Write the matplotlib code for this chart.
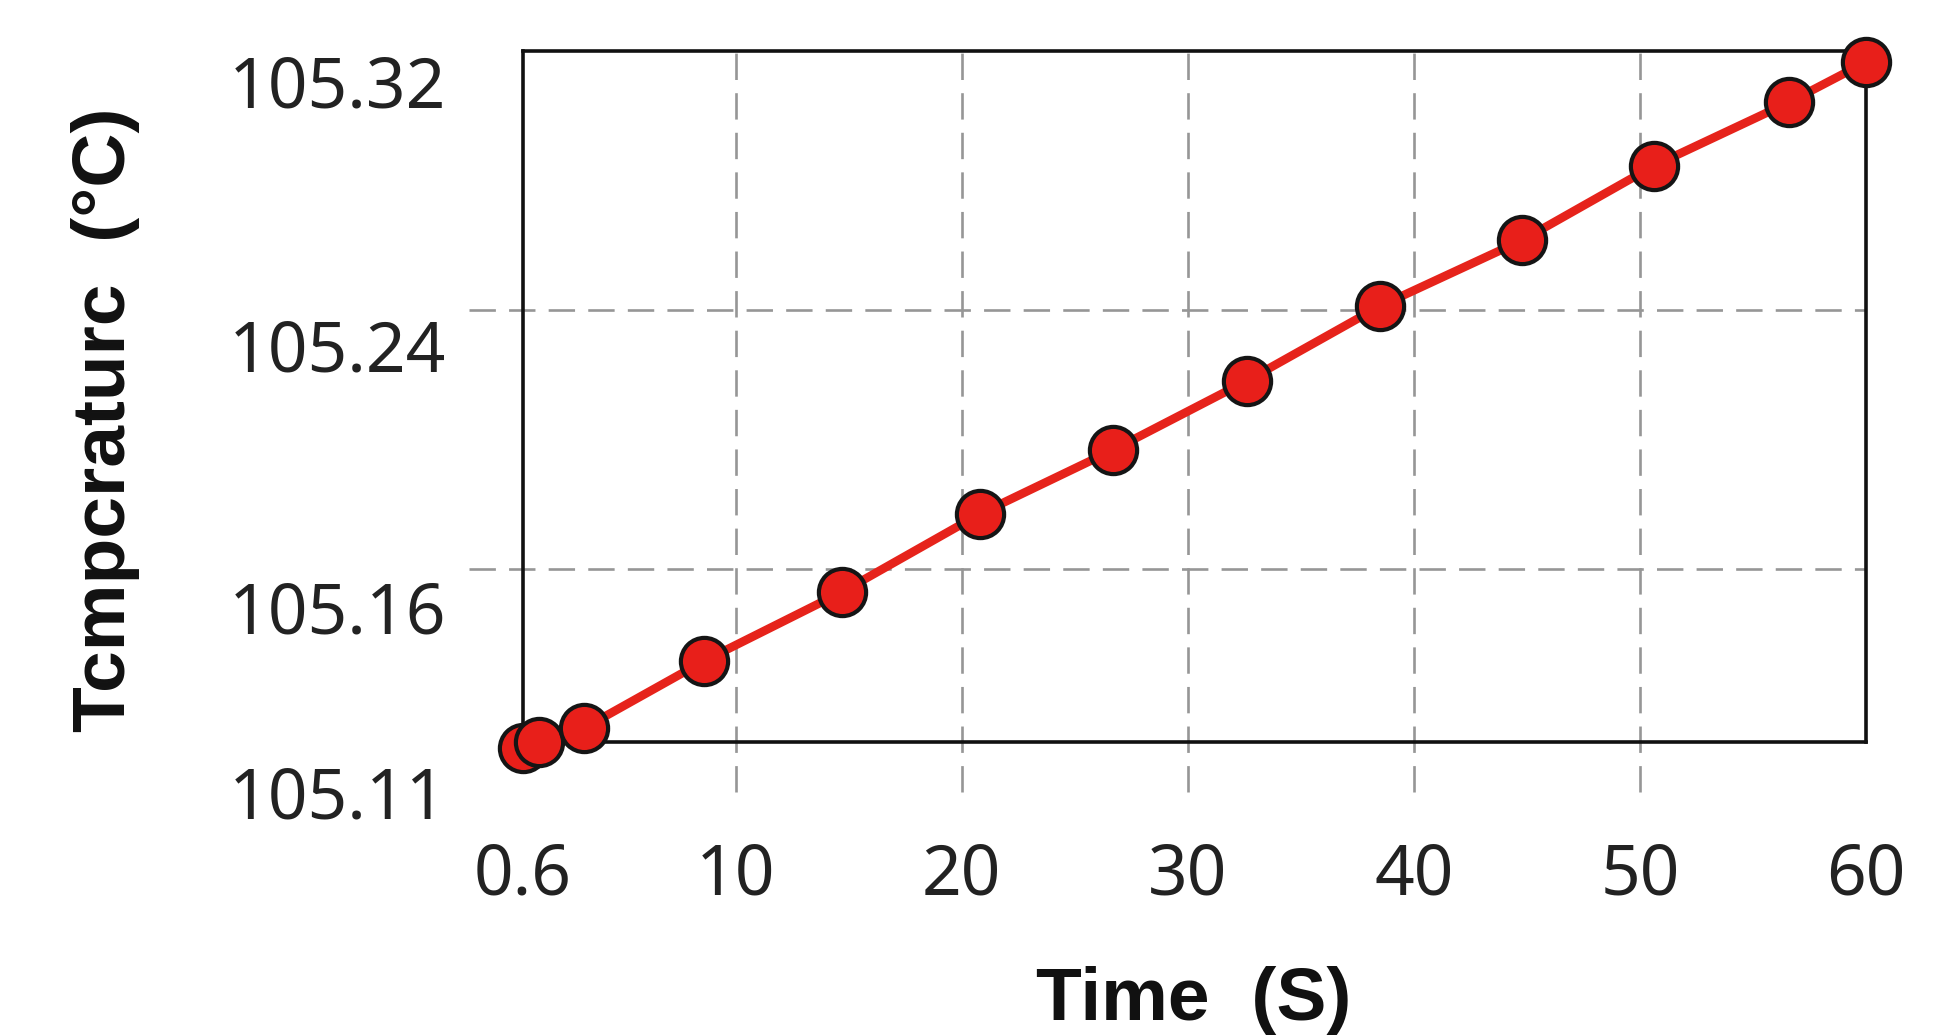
import matplotlib
matplotlib.use('Agg')
import numpy as np
from matplotlib import pyplot as plt
from matplotlib import transforms as mtransforms

# values
time_s = [0.6, 1.3, 3.3, 8.6, 14.7, 20.8, 26.7, 32.6, 38.5, 44.8, 50.6, 56.6, 60.0]
temp_c = [105.1047, 105.1066, 105.1109, 105.1316, 105.1529, 105.1770, 105.1968,
          105.2181, 105.2412, 105.2616, 105.2845, 105.3042, 105.3166]

x_ticks = [0.6, 10, 20, 30, 40, 50, 60]
x_tick_labels = ['0.6', '10', '20', '30', '40', '50', '60']
y_ticks = [105.1066, 105.16, 105.24, 105.32]
y_tick_labels = ['105.11', '105.16', '105.24', '105.32']
x_grid = [10, 20, 30, 40, 50]
y_grid = [105.16, 105.24]

fig = plt.figure(figsize=(19.53, 10.35), dpi=100)
ax = fig.add_axes([0.2678, 0.2831, 0.6877, 0.6676])

ax.plot(time_s, temp_c, '-o', color='#e6231b', lw=6.2,
        markersize=34, markerfacecolor='#e81f1a', markeredgecolor='#151515',
        markeredgewidth=3.0, zorder=5, clip_on=False)

ax.set_xlim(0.6, 60)
ax.set_ylim(y_ticks[0], 105.32)

# dashed grid, running a little past the frame like in the original
grid_kw = dict(color='#969696', lw=1.9, dashes=(10, 5), zorder=1, clip_on=False)
xtrans = mtransforms.blended_transform_factory(ax.transData, ax.transAxes)
for gx in x_grid:
    ax.plot([gx, gx], [-0.072, 1.0], transform=xtrans, **grid_kw)
ytrans = mtransforms.blended_transform_factory(ax.transAxes, ax.transData)
for gy in y_grid:
    ax.plot([-0.04, 1.0], [gy, gy], transform=ytrans, **grid_kw)

for side in ['top', 'bottom', 'left', 'right']:
    ax.spines[side].set_linewidth(2.6)
    ax.spines[side].set_color('#111111')
    ax.spines[side].set_zorder(3)

ax.set_xticks(x_ticks)
ax.set_xticklabels(x_tick_labels)
ax.set_yticks(y_ticks)
ax.set_yticklabels(y_tick_labels)
ax.tick_params(axis='both', length=0, labelsize=50, labelcolor='#222222')
ax.tick_params(axis='x', pad=72)
ax.tick_params(axis='y', pad=55)
for lab in ax.get_xticklabels() + ax.get_yticklabels():
    lab.set_fontfamily('Noto Sans')

# the y labels sit a bit below their grid lines
y_shift = [50, 38, 35, 30]
for lab, dy in zip(ax.get_yticklabels(), y_shift):
    off = mtransforms.ScaledTranslation(0, -dy / 100, fig.dpi_scale_trans)
    lab.set_transform(lab.get_transform() + off)

fig.text(106 / 1953, 1 - 420 / 1035, 'Tcmpcraturc  (°C)', rotation=90,
         ha='center', va='center', fontsize=54, fontweight='bold',
         family='Liberation Sans', color='#111111')
fig.text(1194 / 1953, 1 - 966 / 1035, 'Time  (S)', ha='center', va='top',
         fontsize=54, fontweight='bold', family='Liberation Sans', color='#111111')

fig.savefig('out.png', dpi=100, facecolor='white')
